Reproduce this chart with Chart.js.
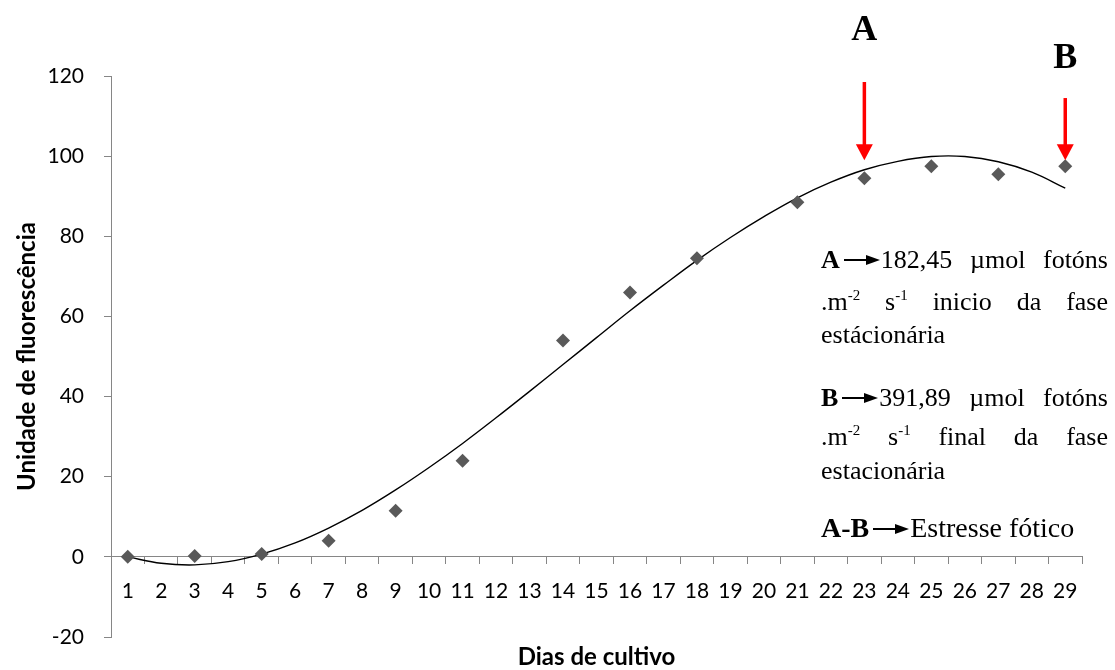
<!DOCTYPE html>
<html>
<head>
<meta charset="utf-8">
<script src="https://cdn.jsdelivr.net/npm/chart.js@4/dist/chart.umd.min.js"></script>
<style>
  html, body { margin: 0; padding: 0; background: #fff; }
  #wrap { position: relative; width: 1115px; height: 670px; }
  #wrap canvas { position: absolute; left: 0; top: 0; }
  .note {
    position: absolute;
    left: 821px;
    width: 287px;
    height: 30px;
    line-height: 30px;
    font-family: "Liberation Serif", "Times New Roman", serif;
    font-size: 26px;
    color: #000;
    white-space: nowrap;
  }
  .just { text-align: justify; text-align-last: justify; white-space: normal; }
  .note sup { font-size: 15px; line-height: 0; vertical-align: 10px; }
  .arr { display: inline-block; width: 36px; height: 12px; margin: 0 1px 0 4px; vertical-align: 2px; }
</style>
</head>
<body>
<div id="wrap">
  <canvas id="myChart" width="1115" height="670"></canvas>
  <div class="note just" style="top:245px"><b>A</b><svg class="arr" viewBox="0 0 36 12"><line x1="0" y1="6" x2="24" y2="6" stroke="#000" stroke-width="2"/><polygon points="22,1 36,6 22,11" fill="#000"/></svg>182,45 µmol fotóns</div>
  <div class="note just" style="top:287px">.m<sup>-2</sup> s<sup>-1</sup> inicio da fase</div>
  <div class="note" style="top:320px">estácionária</div>
  <div class="note just" style="top:383px"><b>B</b><svg class="arr" viewBox="0 0 36 12"><line x1="0" y1="6" x2="24" y2="6" stroke="#000" stroke-width="2"/><polygon points="22,1 36,6 22,11" fill="#000"/></svg>391,89 µmol fotóns</div>
  <div class="note just" style="top:422px">.m<sup>-2</sup> s<sup>-1</sup> final da fase</div>
  <div class="note" style="top:456px">estacionária</div>
  <div class="note" style="top:513px;font-size:28px"><b>A-B</b><svg class="arr" viewBox="0 0 36 12"><line x1="0" y1="6" x2="24" y2="6" stroke="#000" stroke-width="2"/><polygon points="22,1 36,6 22,11" fill="#000"/></svg>Estresse fótico</div>
</div>
<script>
// dias no eixo x
const days = ["1","2","3","4","5","6","7","8","9","10","11","12","13","14","15","16","17","18","19","20","21","22","23","24","25","26","27","28","29"];
// dias medidos e fluorescência
const measuredDays = ["1","3","5","7","9","11","14","16","18","21","23","25","27","29"];
const fluorescence = [0, 0.2, 0.7, 4, 11.5, 24, 54, 66, 74.5, 88.5, 94.5, 97.5, 95.5, 97.5];
// linha de tendência (um valor por dia)
const trend = [0, -1.6, -2.0, -1.2, 0.7, 3.5, 7.2, 11.6, 16.7, 22.3, 28.3, 34.7, 41.3, 48.0, 54.7, 61.4, 67.8, 74.0, 79.7, 84.9, 89.6, 93.5, 96.6, 98.7, 99.9, 99.9, 98.6, 96.0, 92.0];
const yTicks = [-20, 0, 20, 40, 60, 80, 100, 120];
// setas A e B
const arrowDays = ["23", "29"];
const arrowLetters = ["A", "B"];

const axisGray = "#868686";

const points = measuredDays.map((d, i) => ({ x: d, y: fluorescence[i] }));

// desenha setas vermelhas, letras e título do eixo x
const annotations = {
  id: "annotations",
  afterDraw(chart) {
    const { ctx, scales: { x, y }, chartArea } = chart;
    const tops = [118.5, 114.5];
    const letterVals = [131.3, 124.2];
    ctx.save();
    arrowDays.forEach((d, i) => {
      const px = x.getPixelForValue(x.getLabels().indexOf(d));
      const yTop = y.getPixelForValue(tops[i]);
      const yTip = y.getPixelForValue(99);
      ctx.strokeStyle = "#ff0000";
      ctx.fillStyle = "#ff0000";
      ctx.lineWidth = 3.5;
      ctx.beginPath();
      ctx.moveTo(px, yTop);
      ctx.lineTo(px, yTip - 12);
      ctx.stroke();
      ctx.beginPath();
      ctx.moveTo(px - 8.5, yTip - 16);
      ctx.lineTo(px + 8.5, yTip - 16);
      ctx.lineTo(px, yTip);
      ctx.closePath();
      ctx.fill();

      ctx.fillStyle = "#000";
      ctx.font = "bold 36px 'Liberation Serif', 'Times New Roman', serif";
      ctx.textAlign = "center";
      ctx.textBaseline = "middle";
      ctx.fillText(arrowLetters[i], px, y.getPixelForValue(letterVals[i]));
    });
    ctx.fillStyle = "#000";
    ctx.font = "bold 24px Lato";
    ctx.textAlign = "center";
    ctx.textBaseline = "middle";
    ctx.fillText("Dias de cultivo", (chartArea.left + chartArea.right) / 2, chartArea.bottom + 20);
    ctx.restore();
  },
};

const ctx = document.getElementById("myChart").getContext("2d");
const myChart = new Chart(ctx, {
  data: {
    labels: days,
    datasets: [
      {
        type: "scatter",
        data: points,
        pointStyle: "rectRot",
        pointRadius: 7,
        backgroundColor: "#595959",
        borderColor: "#595959",
        borderWidth: 0,
        showLine: false,
      },
      {
        type: "line",
        data: trend,
        borderColor: "#000",
        borderWidth: 1.4,
        pointRadius: 0,
        tension: 0.4,
        fill: false,
      },
    ],
  },
  options: {
    responsive: false,
    animation: false,
    layout: { padding: { top: 76, right: 33, bottom: 33, left: 0 } },
    plugins: {
      legend: { display: false },
      tooltip: { enabled: false },
    },
    scales: {
      x: {
        type: "category",
        offset: true,
        position: { y: 0 },
        grid: { drawOnChartArea: false, offset: true, tickLength: 7, color: axisGray },
        border: { color: axisGray },
        ticks: { color: "#000", font: { family: "Lato", size: 21 }, padding: 15, maxRotation: 0, autoSkip: false },
      },
      y: {
        min: yTicks[0],
        max: yTicks[yTicks.length - 1],
        afterBuildTicks: scale => {
          scale.ticks = yTicks.map(v => ({ value: v }));
        },
        afterFit: scale => {
          scale.width = 111;
        },
        grid: { drawOnChartArea: false, tickLength: 7, color: axisGray },
        border: { color: axisGray },
        ticks: { color: "#000", font: { family: "Lato", size: 21 }, padding: 20 },
        title: {
          display: true,
          text: "Unidade de fluorescência",
          color: "#000",
          font: { family: "Lato", size: 24, weight: "bold" },
          padding: { top: 13, bottom: 0 },
        },
      },
    },
  },
  plugins: [annotations],
});
</script>
</body>
</html>
